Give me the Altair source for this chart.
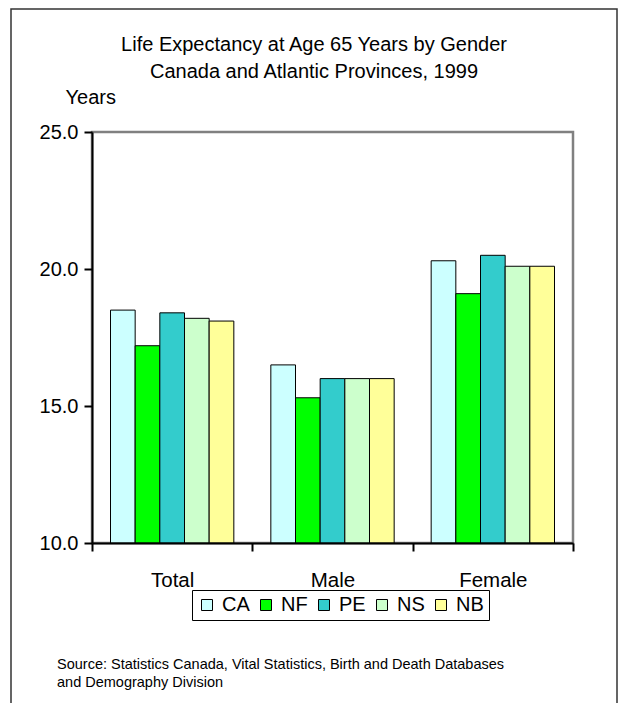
import altair as alt
import pandas as pd

genders = ["Total", "Male", "Female"]
regions = ["CA", "NF", "PE", "NS", "NB"]
colors = ["#CCFFFF", "#00FF00", "#33CCCC", "#CCFFCC", "#FFFF99"]
total_vals = [18.5, 17.2, 18.4, 18.2, 18.1]
male_vals = [16.5, 15.3, 16.0, 16.0, 16.0]
female_vals = [20.3, 19.1, 20.5, 20.1, 20.1]
y_ticks = [10, 15, 20, 25]
y_min = 10
title_lines = ["Life Expectancy at Age 65 Years by Gender",
               "Canada and Atlantic Provinces, 1999"]
source_lines = ["Source:  Statistics Canada, Vital Statistics, Birth and Death Databases",
                "and Demography Division"]

rows = []
for g, vals in zip(genders, [total_vals, male_vals, female_vals]):
    for r, v in zip(regions, vals):
        rows.append({"gender": g, "region": r, "value": v})
df = pd.DataFrame(rows)

FONT = "Liberation Sans"
W, H = 481, 411

# plot-area frame (grey top/right edges)
plot_frame = alt.Chart(alt.Data(values=[{"a": 1}])).mark_rect(
    filled=False, stroke="#808080", strokeWidth=2.5
).encode(x=alt.value(0), x2=alt.value(W), y=alt.value(0), y2=alt.value(H))

bars = alt.Chart(df).mark_bar(stroke="black", strokeWidth=1).encode(
    x=alt.X("gender:N", sort=genders,
            scale=alt.Scale(paddingInner=0, paddingOuter=0),
            axis=alt.Axis(title=None, labelAngle=0, tickBand="extent",
                          domainColor="black", domainWidth=2,
                          tickColor="black", tickWidth=2, tickSize=8,
                          labelFontSize=20.5, labelPadding=19, labelColor="black",
                          labelFont=FONT, zindex=1)),
    xOffset=alt.XOffset("region:N", sort=regions,
                        scale=alt.Scale(paddingInner=0, paddingOuter=0.75)),
    y=alt.Y("value:Q",
            scale=alt.Scale(domain=[10, 25], nice=False, zero=False),
            axis=alt.Axis(values=y_ticks, format=".1f", grid=False,
                          title="Years", titleAngle=0, titleX=-27, titleY=-35,
                          titleAlign="left", titleBaseline="middle",
                          titleFontSize=20, titleFontWeight="normal",
                          titleColor="black", titleFont=FONT,
                          domainColor="black", domainWidth=2,
                          tickColor="black", tickWidth=2, tickSize=8,
                          labelFontSize=20, labelPadding=6, labelColor="black",
                          labelFont=FONT, zindex=1)),
    y2=alt.datum(y_min),
    color=alt.Color("region:N", sort=regions,
                    scale=alt.Scale(domain=regions, range=colors),
                    legend=alt.Legend(orient="none", legendX=100, legendY=458,
                                      direction="horizontal", title=None,
                                      symbolType="square", symbolSize=121,
                                      symbolStrokeColor="black",
                                      symbolStrokeWidth=1, symbolOpacity=1,
                                      labelFontSize=20, labelFont=FONT,
                                      labelColor="black", labelOffset=5,
                                      columnPadding=6, padding=5,
                                      strokeColor="black")),
)

layers = [plot_frame, bars]
for i, line in enumerate(title_lines):
    layers.append(
        alt.Chart(alt.Data(values=[{"t": line}])).mark_text(
            fontSize=20, font=FONT, color="black", align="center", baseline="middle"
        ).encode(text="t:N", x=alt.value(222), y=alt.value(-87 + 27 * i))
    )
for i, line in enumerate(source_lines):
    layers.append(
        alt.Chart(alt.Data(values=[{"t": line}])).mark_text(
            fontSize=14.5, font=FONT, color="black", align="left", baseline="middle"
        ).encode(text="t:N", x=alt.value(-35), y=alt.value(533 + 18 * i))
    )
frame = alt.Chart(alt.Data(values=[{"a": 1}])).mark_rect(
    filled=False, stroke="#333333", strokeWidth=1.5
).encode(x=alt.value(-81), x2=alt.value(525), y=alt.value(-123), y2=alt.value(620))
layers.append(frame)

chart = alt.layer(*layers).properties(
    width=W, height=H,
    autosize=alt.AutoSizeParams(type="none"),
    padding={"left": 84, "top": 124, "right": 46, "bottom": 160},
).configure_view(
    stroke="transparent"
).configure_legend(
    strokeWidth=2
).configure(font=FONT)

chart.save("out.html", embed_options={"renderer": "svg", "actions": False})
